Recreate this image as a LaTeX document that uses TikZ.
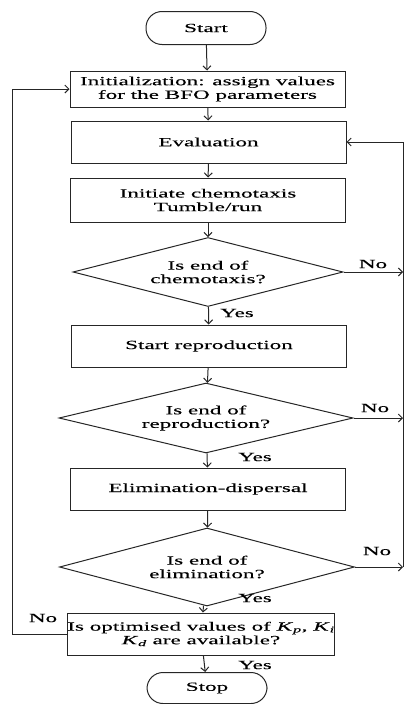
\documentclass[tikz,border=0pt]{standalone}
\usepackage{fontspec}
\setmainfont{Liberation Serif}[FakeStretch=1.85,FakeBold=0.2]
\usetikzlibrary{shapes.geometric,arrows.meta}
\begin{document}
\begin{tikzpicture}[x=1pt,y=-1pt,
  font=\fontsize{12.5}{13.6}\selectfont,
  ln/.style={draw=black!85, line width=1pt},
  arr/.style={ln, -{Straight Barb[length=4pt,width=8pt]}},
  proc/.style={ln, rectangle, minimum width=275, inner sep=0, align=center},
  term/.style={ln, rectangle, rounded corners=16pt, minimum width=120, minimum height=33, inner sep=0},
  dec/.style={ln, diamond, aspect=4, inner sep=0, align=center},
  lab/.style={inner sep=0}]
\useasboundingbox (0,0) rectangle (405,704);
\node[term] (start) at (206,28) {Start};
\node[proc, minimum height=36] (init) at (207.5,89) {Initialization: assign values\\for the BFO parameters};
\node[proc, minimum height=42] (eval) at (208.5,142) {Evaluation};
\node[proc, minimum height=44] (chemo) at (208,200) {Initiate chemotaxis\\Tumble/run};
\node[dec, minimum width=270, minimum height=69] (d1) at (208,272) {Is end of\\chemotaxis?};
\node[proc, minimum height=42] (repro) at (209,346) {Start reproduction};
\node[dec, minimum width=294, minimum height=70] (d2) at (206,418) {Is end of\\reproduction?};
\node[proc, minimum height=42] (elim) at (208,489) {Elimination-dispersal};
\node[dec, minimum width=295, minimum height=78] (d3) at (207,567) {Is end of\\elimination?};
\node[proc, minimum width=266, minimum height=42] (final) at (201,634) {Is optimised values of \textit{K}\textsubscript{\textit{p}}, \textit{K}\textsubscript{\textit{i}}\\\textit{K}\textsubscript{\textit{d}} are available?};
\node[term, minimum height=31] (stop) at (207,688) {Stop};
\coordinate (r1) at (403,272);
\coordinate (r2) at (403,418);
\coordinate (r3) at (403,567);
\coordinate (rt) at (403,142);
\coordinate (lb) at (12,634);
\coordinate (lt) at (12,89);
\draw[arr] (start) -- (init);
\draw[arr] (init) -- (eval);
\draw[arr] (eval) -- (chemo);
\draw[arr] (chemo) -- (d1);
\draw[arr] (d1) -- (repro);
\draw[arr] (repro) -- (d2);
\draw[arr] (d2) -- (elim);
\draw[arr] (elim) -- (d3);
\draw[arr] (d3) -- (final);
\draw[arr] (final) -- (stop);
\draw[arr] (d1.east) -- (r1);
\draw[arr] (d2.east) -- (r2);
\draw[arr] (d3.east) -- (r3);
\draw[arr] (r3) -- (rt) -- (eval.east);
\draw[arr] (final.west) -- (lb) -- (lt) -- (init.west);
\node[lab] (n1) at (373,264) {No};
\node[lab] (n2) at (375,408) {No};
\node[lab] (n3) at (377,551) {No};
\node[lab] (n4) at (43,618) {No};
\node[lab] (y1) at (237,313) {Yes};
\node[lab] (y2) at (255,457) {Yes};
\node[lab] (y3) at (255,598) {Yes};
\node[lab] (y4) at (255,665) {Yes};
\end{tikzpicture}
\end{document}
